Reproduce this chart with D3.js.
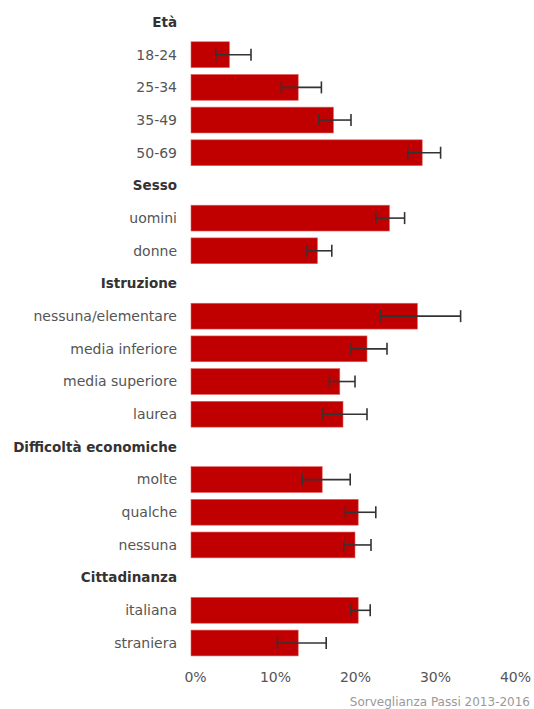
<!DOCTYPE html>
<html>
<head>
<meta charset="utf-8">
<script src="https://cdn.jsdelivr.net/npm/d3@7"></script>
<style>
  body { margin: 0; background: #fff; }
  svg { display: block; font-family: "DejaVu Sans", Verdana, sans-serif; }
</style>
</head>
<body>
<svg id="chart" width="534" height="709"></svg>
<script>
// rows in order; header rows have no value
const groups = ['Età', 'Sesso', 'Istruzione', 'Difficoltà economiche', 'Cittadinanza'];
const labels = [
  ['18-24', '25-34', '35-49', '50-69'],
  ['uomini', 'donne'],
  ['nessuna/elementare', 'media inferiore', 'media superiore', 'laurea'],
  ['molte', 'qualche', 'nessuna'],
  ['italiana', 'straniera']
];
const values = [
  [4.8, 13.4, 17.8, 28.9],
  [24.8, 15.8],
  [28.3, 22.0, 18.6, 19.0],
  [16.4, 20.9, 20.5],
  [20.9, 13.4]
];
const lower = [
  [3.1, 11.3, 16.0, 27.1],
  [23.1, 14.5],
  [23.7, 20.0, 17.3, 16.5],
  [13.9, 19.3, 19.1],
  [20.0, 10.8]
];
const upper = [
  [7.5, 16.3, 20.0, 31.2],
  [26.7, 17.6],
  [33.7, 24.5, 20.5, 22.0],
  [19.9, 23.1, 22.5],
  [22.4, 16.9]
];
const ticks = [0, 10, 20, 30, 40];
const source = 'Sorveglianza Passi 2013-2016';

// flatten into rows
const rows = [];
groups.forEach((g, gi) => {
  rows.push({ id: 'h' + gi, label: g, header: true });
  labels[gi].forEach((l, li) => {
    rows.push({ id: gi + '-' + li, label: l, header: false,
      v: values[gi][li], lo: lower[gi][li], hi: upper[gi][li] });
  });
});

const svg = d3.select('#chart');

const x = d3.scaleLinear().domain([0, 40]).range([191, 511]);
const y = d3.scalePoint().domain(rows.map(d => d.id)).range([22, 643]);
const barH = y.step() * 0.79;

// row labels
svg.selectAll('.lab')
  .data(rows)
  .enter().append('text')
  .attr('class', 'lab')
  .attr('x', 177)
  .attr('y', d => y(d.id))
  .attr('dy', '0.35em')
  .attr('text-anchor', 'end')
  .attr('font-size', d => d.header ? 13.5 : 14)
  .attr('font-weight', d => d.header ? 'bold' : 'normal')
  .attr('fill', d => d.header ? '#333' : '#555')
  .text(d => d.label);

const data = rows.filter(d => !d.header);

// bars
svg.selectAll('.bar')
  .data(data)
  .enter().append('rect')
  .attr('class', 'bar')
  .attr('x', x(0))
  .attr('y', d => y(d.id) - barH / 2)
  .attr('width', d => x(d.v) - x(0))
  .attr('height', barH)
  .attr('fill', '#c00000')
  .attr('stroke', '#e06060')
  .attr('stroke-width', 0.6);

// error bars
const err = svg.selectAll('.err')
  .data(data)
  .enter().append('g')
  .attr('class', 'err')
  .attr('stroke', '#333')
  .attr('stroke-width', 1.6);

err.append('line')
  .attr('x1', d => x(d.lo)).attr('x2', d => x(d.hi))
  .attr('y1', d => y(d.id)).attr('y2', d => y(d.id));
err.append('line')
  .attr('x1', d => x(d.lo)).attr('x2', d => x(d.lo))
  .attr('y1', d => y(d.id) - 6).attr('y2', d => y(d.id) + 6);
err.append('line')
  .attr('x1', d => x(d.hi)).attr('x2', d => x(d.hi))
  .attr('y1', d => y(d.id) - 6).attr('y2', d => y(d.id) + 6);

// x axis (labels only)
const ax = svg.append('g')
  .attr('transform', 'translate(4,669)')
  .call(d3.axisBottom(x).tickValues(ticks).tickFormat(d => d + '%').tickSize(0));
ax.select('.domain').remove();
ax.selectAll('text')
  .attr('font-size', 14)
  .attr('font-family', '"DejaVu Sans", Verdana, sans-serif')
  .attr('fill', '#555');

// source
svg.append('text')
  .attr('x', 530)
  .attr('y', 706)
  .attr('text-anchor', 'end')
  .attr('font-size', 12)
  .attr('fill', '#999')
  .text(source);
</script>
</body>
</html>
